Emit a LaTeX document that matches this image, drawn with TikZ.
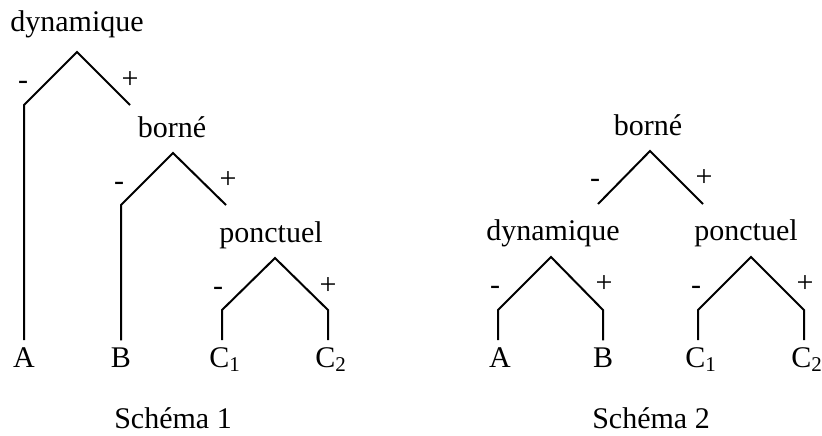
\documentclass[tikz,border=0pt]{standalone}
\usepackage{fontspec}
\setmainfont{Liberation Serif}
\usepackage{tikz}

\begin{document}
\begin{tikzpicture}[
    x=0.5pt, y=-0.5pt,
    lab/.style={anchor=base, font=\fontsize{15pt}{18pt}\selectfont},
    sg/.style={anchor=base, inner sep=0pt, font=\fontsize{15pt}{18pt}\selectfont},
    br/.style={draw=black, line width=1pt}
]
    \useasboundingbox (0,0) rectangle (822,435);

    % Schema 1
    \node [lab] (dyn1) at (77,31) {dynamique};
    \node [lab] (bor1) at (172,137) {borné};
    \node [lab] (pon1) at (271,242) {ponctuel};
    \node [lab] (a1) at (24,367) {A};
    \node [lab] (b1) at (121,367) {B};
    \node [lab] (c11) at (225,367) {C\textsubscript{1}};
    \node [lab] (c21) at (331,367) {C\textsubscript{2}};
    \node [lab] (sch1) at (173,428) {Schéma 1};

    \coordinate (t1) at (77,52);
    \coordinate (l1) at (24,105);
    \coordinate (r1) at (130,105);
    \coordinate (t2) at (173,153);
    \coordinate (l2) at (121,205);
    \coordinate (r2) at (226,205);
    \coordinate (t3) at (275,258);
    \coordinate (l3) at (222,310);
    \coordinate (r3) at (328,310);

    \draw [br] (a1.north -| l1) -- (l1) -- (t1) -- (r1);
    \draw [br] (b1.north -| l2) -- (l2) -- (t2) -- (r2);
    \draw [br] (c11.north -| l3) -- (l3) -- (t3) -- (r3) -- (c21.north -| r3);

    \node [sg] (m1) at (23,89) {-};
    \node [sg] (p1) at (130,88) {+};
    \node [sg] (m2) at (119,190) {-};
    \node [sg] (p2) at (228,188) {+};
    \node [sg] (m3) at (218,295) {-};
    \node [sg] (p3) at (328,294) {+};

    % Schema 2
    \node [lab] (bor2) at (648,135) {borné};
    \node [lab] (dyn2) at (553,240) {dynamique};
    \node [lab] (pon2) at (746,240) {ponctuel};
    \node [lab] (a2) at (500,367) {A};
    \node [lab] (b2) at (603,367) {B};
    \node [lab] (c12) at (701,367) {C\textsubscript{1}};
    \node [lab] (c22) at (807,367) {C\textsubscript{2}};
    \node [lab] (sch2) at (651,428) {Schéma 2};

    \coordinate (t4) at (650,151);
    \coordinate (l4) at (598,204);
    \coordinate (r4) at (703,204);
    \coordinate (t5) at (551,257);
    \coordinate (l5) at (498,310);
    \coordinate (r5) at (603,310);
    \coordinate (t6) at (751,257);
    \coordinate (l6) at (698,310);
    \coordinate (r6) at (804,310);

    \draw [br] (l4) -- (t4) -- (r4);
    \draw [br] (a2.north -| l5) -- (l5) -- (t5) -- (r5) -- (b2.north -| r5);
    \draw [br] (c12.north -| l6) -- (l6) -- (t6) -- (r6) -- (c22.north -| r6);

    \node [sg] (m4) at (595,187) {-};
    \node [sg] (p4) at (704,186) {+};
    \node [sg] (m5) at (495,294) {-};
    \node [sg] (p5) at (604,292) {+};
    \node [sg] (m6) at (696,294) {-};
    \node [sg] (p6) at (805,292) {+};
\end{tikzpicture}
\end{document}
